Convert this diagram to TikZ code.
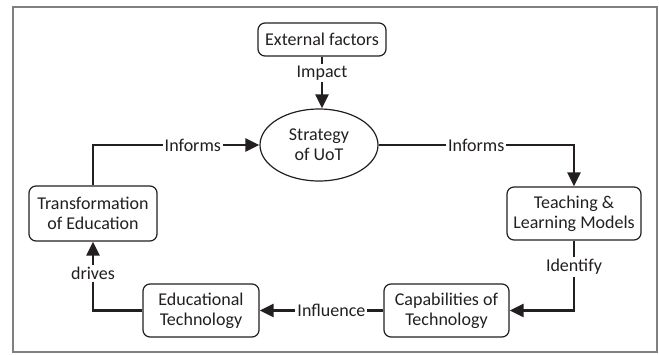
\documentclass[tikz,border=0pt]{standalone}
\usepackage{fontspec}
\setmainfont{Carlito}
\usetikzlibrary{arrows.meta, shapes.geometric}
\definecolor{ink}{HTML}{231F20}
\tikzset{>={Triangle[length=7pt,width=6.5pt]}}
\tikzset{box/.style={draw=ink, line width=0.6pt, rounded corners=3.5pt, align=center, inner sep=0pt, text=ink},
	lbl/.style={fill=white, inner sep=1pt, text=ink}}

\begin{document}
\begin{tikzpicture}[x=0.5pt, y=-0.5pt, font=\fontsize{9}{10}\selectfont]
	\useasboundingbox (0,0) rectangle (659,354);
	\draw[gray, line width=0.6pt] (13,7) rectangle (657,352);
	
	\node[box, minimum width=64pt, minimum height=16.5pt]	(ext)	at	(322,39.5)	{External factors};
	\node[draw=ink, line width=0.6pt, ellipse, inner sep=0pt, minimum width=59pt, minimum height=36pt, align=center, text=ink]	(str)	at	(319,145)	{Strategy\\of UoT};
	\node[box, minimum width=67pt, minimum height=26.5pt]	(teach)	at	(574,213.5)	{Teaching \&\\Learning Models};
	\node[box, minimum width=62.5pt, minimum height=26.5pt]	(cap)	at	(446.5,310.5)	{Capabilities of\\Technology};
	\node[box, minimum width=58pt, minimum height=26.5pt]	(edu)	at	(201,310.5)	{Educational\\Technology};
	\node[box, minimum width=64pt, minimum height=27.5pt]	(trans)	at	(93,213.5)	{Transformation\\of Education};
	
	\begin{scope}[draw=ink, line width=1.3pt]
	\draw[->] (ext.south) -- node[lbl, pos=0.32]{Impact} (ext.south |- str.north);
	\draw[->] (str.east) -| node[lbl, pos=0.25]{Informs} (teach.north);
	\draw[->] (teach.south) |- node[lbl, pos=0.19]{Identify} (cap.east);
	\draw[->] (cap.west) -- node[lbl, pos=0.42]{Influence} (edu.east);
	\draw[->] (edu.west) -| node[lbl, pos=0.77]{drives} (trans.south);
	\draw[->] (trans.north) |- node[lbl, pos=0.8]{Informs} (str.west);
	\end{scope}
\end{tikzpicture}
\end{document}
